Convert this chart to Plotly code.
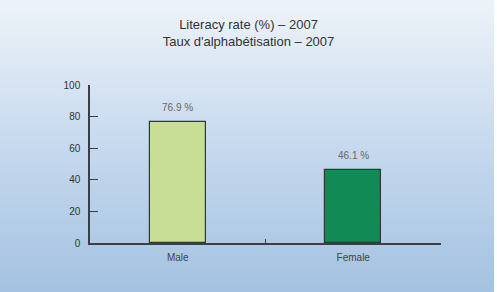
import plotly.graph_objects as go
import urllib.parse

categories = ["Male", "Female"]
values = [76.9, 46.1]
bar_labels = ["76.9 %", "46.1 %"]
bar_colors = ["#c8de94", "#128a56"]
y_ticks = [0, 20, 40, 60, 80, 100]

W, H = 497, 292
ml, mr, mt, mb = 90, 56, 85, 49
pw, ph = W - ml - mr, H - mt - mb

svg = ('<svg xmlns="http://www.w3.org/2000/svg" width="494" height="292" preserveAspectRatio="none">'
       '<defs><linearGradient id="g" x1="0" y1="0" x2="0" y2="1">'
       '<stop offset="0" stop-color="#eef3f9"/>'
       '<stop offset="0.5" stop-color="#c6d9ee"/>'
       '<stop offset="1" stop-color="#a4c2e1"/>'
       '</linearGradient></defs><rect width="494" height="292" fill="url(#g)"/></svg>')
src = "data:image/svg+xml;charset=utf-8," + urllib.parse.quote(svg)

font = "Liberation Sans, Arial"

fig = go.Figure()
fig.add_trace(go.Bar(
    x=categories, y=values, width=0.32,
    marker=dict(color=bar_colors, line=dict(color="#2b3a33", width=1.2)),
    hoverinfo="skip",
))
for c, v, t in zip(categories, values, bar_labels):
    fig.add_annotation(x=c, y=v, text=t, showarrow=False, yanchor="bottom",
                       yshift=7, font=dict(family=font, size=10, color="#666666"))

fig.update_layout(
    width=W, height=H,
    margin=dict(l=ml, r=mr, t=mt, b=mb, pad=0),
    paper_bgcolor="white",
    plot_bgcolor="rgba(0,0,0,0)",
    showlegend=False,
    title=dict(
        text="Literacy rate (%) – 2007<br>Taux d'alphabétisation – 2007",
        x=0.5, xanchor="center", y=1 - 29 / H, yanchor="middle",
        font=dict(family=font, size=13, color="#333333"),
    ),
    images=[dict(
        source=src, xref="paper", yref="paper",
        x=-ml / pw, y=1 + mt / ph, sizex=494 / pw, sizey=H / ph,
        xanchor="left", yanchor="top", sizing="stretch", layer="below",
    )],
    xaxis=dict(
        range=[-0.5, 1.5], showline=True, linecolor="#3a3f47", linewidth=1.5,
        ticks="inside", ticklen=4, tickcolor="#3a3f47", tickwidth=1.2,
        tickson="boundaries", showgrid=False, zeroline=False,
        ticklabelstandoff=4,
        tickfont=dict(family=font, size=10, color="#444444"),
    ),
    yaxis=dict(
        range=[0, 100], tickvals=y_ticks, showline=True, linecolor="#3a3f47",
        linewidth=1.5, ticks="inside", ticklen=8, tickcolor="#3a3f47", tickwidth=1.2,
        showgrid=False, zeroline=False, ticklabelstandoff=6,
        tickfont=dict(family=font, size=10, color="#333333"),
    ),
    bargap=0,
)

fig.write_html("out.html", config={"displayModeBar": False},
               post_script="document.body.style.margin='0';document.body.style.overflow='hidden';")
